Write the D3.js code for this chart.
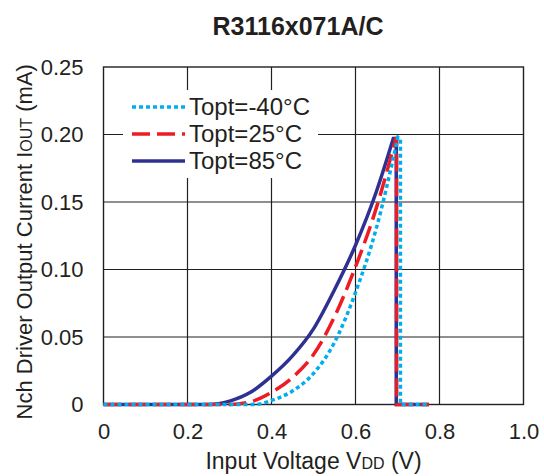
<!DOCTYPE html>
<html>
<head>
<meta charset="utf-8">
<script src="https://cdn.jsdelivr.net/npm/d3@7"></script>
<style>
  body { margin: 0; background: #fff; }
  text { font-family: "Liberation Sans", Arial, sans-serif; fill: #231f20; }
</style>
</head>
<body>
<svg width="544" height="476"></svg>
<script>
// values
const xTicks = [0, 0.2, 0.4, 0.6, 0.8, 1.0]
const yTicks = [0, 0.05, 0.10, 0.15, 0.20, 0.25]

// rising part of each curve (ends at the peak)
const vdd85 = [0, 0.1, 0.2, 0.25, 0.30, 0.35, 0.40, 0.45, 0.50, 0.55, 0.60, 0.65, 0.69]
const iout85 = [0, 0, 0, 0, 0.0025, 0.009, 0.021, 0.036, 0.056, 0.085, 0.118, 0.158, 0.197]
const vdd25 = [0, 0.1, 0.2, 0.30, 0.35, 0.40, 0.45, 0.50, 0.55, 0.60, 0.65, 0.696]
const iout25 = [0, 0, 0, 0, 0.002, 0.009, 0.02, 0.037, 0.065, 0.102, 0.146, 0.197]
const vddM40 = [0, 0.1, 0.2, 0.30, 0.36, 0.40, 0.45, 0.50, 0.55, 0.60, 0.65, 0.701]
const ioutM40 = [0, 0, 0, 0, 0, 0.003, 0.010, 0.023, 0.046, 0.083, 0.131, 0.198]

// cut-off part after the peak
const dropVdd85 = [0.69, 0.697, 0.697, 0.775]
const dropIout85 = [0.197, 0.197, 0, 0]
const dropVdd25 = [0.696, 0.698, 0.698, 0.775]
const dropIout25 = [0.197, 0.197, 0, 0]
const dropVddM40 = [0.701, 0.707, 0.707, 0.775]
const dropIoutM40 = [0.198, 0.197, 0, 0]

const series = [
  { label: 'Topt=-40°C', vdd: vddM40, iout: ioutM40, dv: dropVddM40, di: dropIoutM40, color: '#00aeef', dash: '4,3' },
  { label: 'Topt=25°C', vdd: vdd25, iout: iout25, dv: dropVdd25, di: dropIout25, color: '#ed1c24', dash: '18,7' },
  { label: 'Topt=85°C', vdd: vdd85, iout: iout85, dv: dropVdd85, di: dropIout85, color: '#2e3192', dash: null }
]
const drawOrder = [2, 1, 0]

const svg = d3.select('svg')
const pLeft = 103.5, pRight = 523.5, pTop = 67, pBottom = 404.5
const ink = '#231f20'
const font = '"Liberation Sans", Arial, sans-serif'

const x = d3.scaleLinear().domain([0, 1]).range([pLeft, pRight])
const y = d3.scaleLinear().domain([0, 0.25]).range([pBottom, pTop])

// grid
svg.append('g')
  .selectAll('line')
  .data(xTicks.slice(1, -1))
  .join('line')
  .attr('x1', d => x(d)).attr('x2', d => x(d))
  .attr('y1', pTop).attr('y2', pBottom)
  .attr('stroke', ink).attr('stroke-width', 1.2)
svg.append('g')
  .selectAll('line')
  .data(yTicks.slice(1, -1))
  .join('line')
  .attr('x1', pLeft).attr('x2', pRight)
  .attr('y1', d => y(d)).attr('y2', d => y(d))
  .attr('stroke', ink).attr('stroke-width', 1.2)

// legend background hides grid
svg.append('rect')
  .attr('x', 123).attr('y', 90).attr('width', 195).attr('height', 88)
  .attr('fill', '#fff')

// frame
svg.append('rect')
  .attr('x', pLeft).attr('y', pTop)
  .attr('width', pRight - pLeft).attr('height', pBottom - pTop)
  .attr('fill', 'none').attr('stroke', ink).attr('stroke-width', 1.4)

// curves: smooth rise, straight cut-off, one path so dashes run on
const rise = d3.line().x(d => x(d[0])).y(d => y(d[1])).curve(d3.curveMonotoneX)
const cut = d3.line().x(d => x(d[0])).y(d => y(d[1]))

drawOrder.forEach(i => {
  const s = series[i]
  const a = s.vdd.map((v, k) => [v, s.iout[k]])
  const b = s.dv.map((v, k) => [v, s.di[k]])
  svg.append('path')
    .attr('d', rise(a) + cut(b).replace(/^M/, 'L'))
    .attr('fill', 'none')
    .attr('stroke', s.color)
    .attr('stroke-width', 3.5)
    .attr('stroke-linejoin', 'miter')
    .attr('stroke-dasharray', s.dash)
})

// axis tick labels
const xAxis = d3.axisBottom(x).tickValues(xTicks).tickSize(0).tickPadding(0)
  .tickFormat(d => d === 0 ? '0' : d3.format('.1f')(d))
svg.append('g')
  .attr('transform', `translate(0,${pBottom + 19})`)
  .call(xAxis)
  .call(g => g.select('.domain').remove())
  .call(g => g.selectAll('text').attr('font-size', 22).attr('fill', ink).attr('font-family', font))

const yAxis = d3.axisLeft(y).tickValues(yTicks).tickSize(0).tickPadding(0)
  .tickFormat(d => d === 0 ? '0' : d3.format('.2f')(d))
svg.append('g')
  .attr('transform', `translate(${pLeft - 20},0)`)
  .call(yAxis)
  .call(g => g.select('.domain').remove())
  .call(g => g.selectAll('text').attr('font-size', 22).attr('fill', ink).attr('font-family', font))

// legend
series.forEach((s, i) => {
  const ly = 107 + i * 27
  svg.append('line')
    .attr('x1', 132).attr('x2', 185)
    .attr('y1', ly).attr('y2', ly)
    .attr('stroke', s.color).attr('stroke-width', 3.5)
    .attr('stroke-dasharray', s.dash)
  svg.append('text')
    .attr('x', 189).attr('y', ly + 8)
    .attr('font-size', 24)
    .text(s.label)
})

// title
svg.append('text')
  .attr('x', 298).attr('y', 35)
  .attr('text-anchor', 'middle')
  .attr('font-size', 25).attr('font-weight', 'bold')
  .text('R3116x071A/C')

// x label
const xl = svg.append('text')
  .attr('x', (pLeft + pRight) / 2).attr('y', 469)
  .attr('text-anchor', 'middle')
  .attr('font-size', 23)
xl.append('tspan').text('Input Voltage V')
xl.append('tspan').attr('font-size', 16).text('DD')
xl.append('tspan').text(' (V)')

// y label
const yl = svg.append('text')
  .attr('transform', `translate(32,${(pTop + pBottom) / 2 + 6}) rotate(-90)`)
  .attr('text-anchor', 'middle')
  .attr('font-size', 22)
yl.append('tspan').text('Nch Driver Output Current I')
yl.append('tspan').attr('font-size', 16).text('OUT')
yl.append('tspan').text(' (mA)')
</script>
</body>
</html>
